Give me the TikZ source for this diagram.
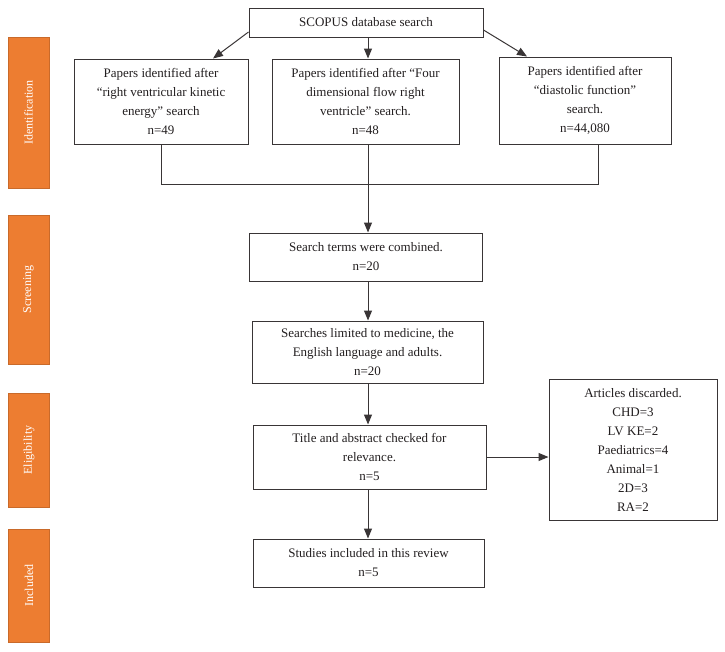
\documentclass[tikz,border=0pt]{standalone}
\usepackage{fontspec}
\setmainfont{Liberation Serif}
\usetikzlibrary{arrows.meta}
\definecolor{phase}{RGB}{237,125,49}
\definecolor{ink}{RGB}{35,31,32}
\begin{document}
\begin{tikzpicture}[x=1pt,y=-1pt,
  box/.style={draw=ink!90, line width=1pt, fill=white, align=center, inner sep=0pt,
    font=\fontsize{13}{19}\selectfont, text=ink},
  phasebox/.style={fill=phase, draw=phase!85!black, line width=0.4pt, inner sep=0pt,
    minimum width=41pt, font=\fontsize{12}{14}\selectfont, text=white},
  link/.style={draw=ink!90, line width=1pt},
  arr/.style={link, -{Triangle[length=10pt,width=8pt]}}]
\useasboundingbox (0,0) rectangle (725,651);
% phase labels
\node[phasebox, minimum height=151pt] (pid) at (28.5,112.5) {\rotatebox{90}{Identification}};
\node[phasebox, minimum height=149pt] (psc) at (28.5,289.5) {\rotatebox{90}{Screening}};
\node[phasebox, minimum height=114pt] (pel) at (29,450) {\rotatebox{90}{Eligibility}};
\node[phasebox, minimum height=113pt] (pin) at (29,585.5) {\rotatebox{90}{Included}};
% boxes
\node[box, minimum width=234pt, minimum height=29pt] (scopus) at (366,22.5) {SCOPUS database search};
\node[box, minimum width=174pt, minimum height=85pt] (b1) at (161,101.5)
  {Papers identified after\\“right ventricular kinetic\\energy” search\\n=49};
\node[box, minimum width=187pt, minimum height=85pt] (b2) at (365.5,101.5)
  {Papers identified after “Four\\dimensional flow right\\ventricle” search.\\n=48};
\node[box, minimum width=172pt, minimum height=87pt] (b3) at (585,100.5)
  {Papers identified after\\“diastolic function”\\search.\\n=44,080};
\node[box, minimum width=233pt, minimum height=48pt] (comb) at (366,257)
  {Search terms were combined.\\n=20};
\node[box, minimum width=231pt, minimum height=62pt] (lim) at (367.5,352)
  {Searches limited to medicine, the\\English language and adults.\\n=20};
\node[box, minimum width=233pt, minimum height=64pt] (title) at (369.5,457)
  {Title and abstract checked for\\relevance.\\n=5};
\node[box, minimum width=168pt, minimum height=141pt] (disc) at (633,449.5)
  {Articles discarded.\\CHD=3\\LV KE=2\\Paediatrics=4\\Animal=1\\2D=3\\RA=2};
\node[box, minimum width=231pt, minimum height=48pt] (stud) at (368.5,563)
  {Studies included in this review\\n=5};
% connectors
\coordinate (j1) at (161,184);
\coordinate (j3) at (598,184);
\coordinate (jm) at (368,184);
\draw[arr] ([yshift=-9.5pt]scopus.west) -- ([xshift=52pt]b1.north);
\draw[arr] (jm |- scopus.south) -- (jm |- b2.north);
\draw[arr] ([yshift=-7.5pt]scopus.east) -- ([xshift=-58pt]b3.north);
\draw[link] (b1.south) -- (j1) -- (j3) -- (j3 |- b3.south);
\draw[link] (jm |- b2.south) -- (jm);
\draw[arr] (jm) -- (jm |- comb.north);
\draw[arr] (jm |- comb.south) -- (jm |- lim.north);
\draw[arr] (jm |- lim.south) -- (jm |- title.north);
\draw[arr] (title.east) -- (title.east -| disc.west);
\draw[arr] (jm |- title.south) -- (jm |- stud.north);
\end{tikzpicture}
\end{document}
